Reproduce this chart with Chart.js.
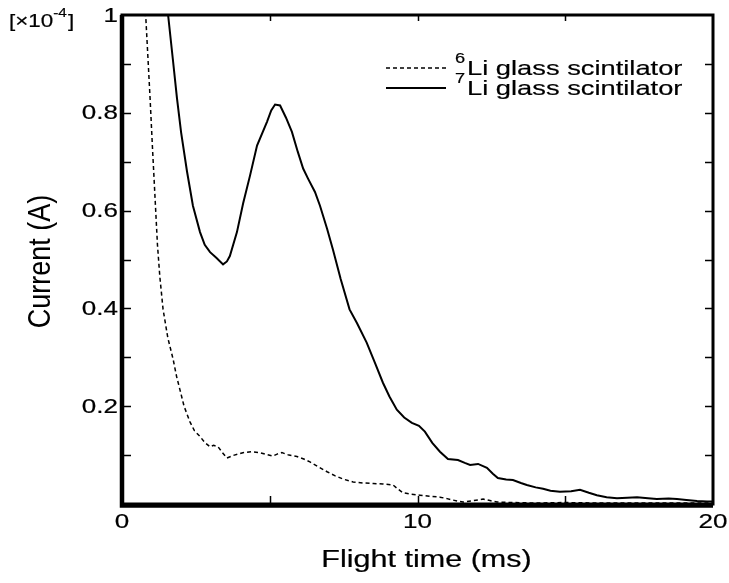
<!DOCTYPE html>
<html lang="en">
<head>
    <meta charset="UTF-8">
    <title>Flight time vs current</title>
    <script src="https://cdn.jsdelivr.net/npm/chart.js"></script>
    <style>
        html, body { margin: 0; padding: 0; background: white; }
        #wrap { width: 729px; height: 583px; }
    </style>
</head>
<body>
    <div id="wrap"><canvas id="tofChart" width="729" height="583"></canvas></div>

    <script>
        // Current in units of 1e-4 A against flight time in ms
        const li6Time = [0.75, 0.81, 0.88, 0.95, 1.03, 1.12, 1.2, 1.28, 1.39, 1.55, 1.73, 1.85, 1.96, 2.1, 2.3, 2.45, 2.64, 2.8, 2.98, 3.1, 3.25, 3.4, 3.55, 3.8, 4.09, 4.4, 4.67, 4.9, 5.11, 5.25, 5.41, 5.65, 5.92, 6.15, 6.36, 6.65, 6.94, 7.2, 7.48, 7.82, 8.16, 8.5, 8.83, 9.17, 9.35, 9.51, 9.8, 10.08, 10.4, 10.76, 11.0, 11.2, 11.54, 11.9, 12.22, 12.45, 12.69, 13.2, 14, 15, 16, 17, 18, 19, 20];
        const li6Current = [1.02, 0.99, 0.91, 0.83, 0.73, 0.624, 0.53, 0.465, 0.398, 0.34, 0.296, 0.26, 0.234, 0.2, 0.168, 0.15, 0.138, 0.126, 0.117, 0.12, 0.117, 0.105, 0.094, 0.1, 0.105, 0.107, 0.105, 0.101, 0.098, 0.102, 0.105, 0.1, 0.097, 0.092, 0.086, 0.076, 0.066, 0.058, 0.051, 0.045, 0.043, 0.042, 0.041, 0.039, 0.03, 0.023, 0.02, 0.018, 0.016, 0.014, 0.011, 0.008, 0.004, 0.007, 0.010, 0.007, 0.004, 0.003, 0.002, 0.003, 0.002, 0.002, 0.002, 0.002, 0.002];

        const li7Time = [1.52, 1.56, 1.72, 1.86, 2.0, 2.2, 2.4, 2.64, 2.8, 2.98, 3.2, 3.42, 3.55, 3.65, 3.89, 4.1, 4.33, 4.57, 4.91, 5.05, 5.18, 5.35, 5.55, 5.75, 5.95, 6.13, 6.3, 6.53, 6.7, 6.94, 7.14, 7.4, 7.7, 7.95, 8.28, 8.55, 8.83, 9.05, 9.3, 9.55, 9.81, 10.05, 10.25, 10.5, 10.76, 11.03, 11.37, 11.6, 11.78, 12.05, 12.35, 12.55, 12.72, 13.0, 13.23, 13.5, 13.7, 14.0, 14.25, 14.5, 14.82, 15.2, 15.5, 15.8, 16.07, 16.4, 16.75, 17.1, 17.43, 17.8, 18.1, 18.5, 18.78, 19.1, 19.46, 19.8, 20.0];
        const li7Current = [1.02, 1.0, 0.91, 0.83, 0.76, 0.68, 0.61, 0.556, 0.53, 0.515, 0.503, 0.49, 0.496, 0.507, 0.556, 0.615, 0.671, 0.733, 0.782, 0.805, 0.817, 0.815, 0.79, 0.761, 0.72, 0.686, 0.665, 0.638, 0.61, 0.563, 0.52, 0.46, 0.398, 0.37, 0.33, 0.29, 0.248, 0.22, 0.193, 0.177, 0.166, 0.16, 0.148, 0.125, 0.107, 0.092, 0.09, 0.084, 0.08, 0.082, 0.074, 0.062, 0.053, 0.05, 0.049, 0.043, 0.039, 0.034, 0.031, 0.027, 0.025, 0.026, 0.029, 0.023, 0.018, 0.014, 0.012, 0.013, 0.014, 0.012, 0.010, 0.011, 0.010, 0.008, 0.006, 0.005, 0.005];

        const legendMass = ['6', '7'];
        const legendText = ['Li glass scintilator', 'Li glass scintilator'];

        const xLabelValues = [0, 10, 20];
        const yLabelValues = [0.2, 0.4, 0.6, 0.8, 1];

        const xTitle = 'Flight time (ms)';
        const yTitle = 'Current (A)';

        const FONT = '"Liberation Sans", Arial, Helvetica, sans-serif';
        const WIDE = 1.3;   // the lettering is set wide

        function toPoints(xs, ys) {
            return xs.map((x, i) => ({ x: x, y: ys[i] }));
        }

        // draws horizontally stretched text, returns advance width
        function wideText(ctx, text, x, y, size, align, baseline, sx) {
            ctx.save();
            ctx.font = size + 'px ' + FONT;
            ctx.textAlign = align;
            ctx.textBaseline = baseline;
            ctx.translate(x, y);
            ctx.scale(sx, 1);
            ctx.lineWidth = 0.2;
            ctx.fillText(text, 0, 0);
            ctx.strokeText(text, 0, 0);
            const w = ctx.measureText(text).width * sx;
            ctx.restore();
            return w;
        }

        // Frame, inward ticks, labels, legend and the exponent note
        const framePlugin = {
            id: 'frame',
            afterDatasetsDraw(chart) {
                const ctx = chart.ctx;
                const a = chart.chartArea;
                const xs = chart.scales.x;
                const ys = chart.scales.y;
                ctx.save();
                ctx.strokeStyle = '#000';
                ctx.fillStyle = '#000';

                // ticks
                ctx.lineWidth = 1.5;
                ctx.beginPath();
                ys.ticks.forEach(t => {
                    if (t.value <= 0 || t.value >= 1) return;
                    const py = Math.round(ys.getPixelForValue(t.value)) + 0.5;
                    ctx.moveTo(a.left, py); ctx.lineTo(a.left + 9, py);
                    ctx.moveTo(a.right, py); ctx.lineTo(a.right - 8, py);
                });
                xs.ticks.forEach(t => {
                    if (t.value <= 0 || t.value >= 20) return;
                    const px = Math.round(xs.getPixelForValue(t.value)) + 0.5;
                    ctx.moveTo(px, a.bottom); ctx.lineTo(px, a.bottom - 8);
                    ctx.moveTo(px, a.top); ctx.lineTo(px, a.top + 6);
                });
                ctx.stroke();

                // box
                ctx.lineWidth = 3;
                ctx.strokeRect(a.left, a.top, a.right - a.left, a.bottom - a.top);
                ctx.lineWidth = 4.5;
                ctx.beginPath();
                ctx.moveTo(a.left, a.top); ctx.lineTo(a.left, a.bottom + 1.5);
                ctx.lineTo(a.right, a.bottom + 1.5);
                ctx.stroke();

                // tick labels
                ys.ticks.forEach(t => {
                    const v = Math.round(t.value * 10) / 10;
                    if (!yLabelValues.includes(v)) return;
                    wideText(ctx, String(v), a.left - 4, ys.getPixelForValue(v) + 1, 20, 'right', 'middle', WIDE);
                });
                xs.ticks.forEach(t => {
                    if (!xLabelValues.includes(t.value)) return;
                    wideText(ctx, String(t.value), xs.getPixelForValue(t.value), 528, 20, 'center', 'alphabetic', WIDE);
                });

                // axis titles
                wideText(ctx, xTitle, (a.left + a.right) / 2 + 9, 567, 23.5, 'center', 'alphabetic', WIDE);
                ctx.save();
                ctx.translate(41, (a.top + a.bottom) / 2 + 2);
                ctx.rotate(-Math.PI / 2);
                ctx.scale(1, 1.15);
                ctx.font = '27px ' + FONT;
                ctx.textAlign = 'center';
                ctx.textBaseline = 'middle';
                ctx.fillText(yTitle, 0, 0);
                ctx.restore();

                // legend
                const rows = [68, 88];
                chart.data.datasets.forEach((ds, i) => {
                    const y = rows[i];
                    ctx.lineWidth = ds.borderWidth;
                    ctx.setLineDash(ds.borderDash || []);
                    ctx.beginPath();
                    ctx.moveTo(386, y); ctx.lineTo(446, y);
                    ctx.stroke();
                    ctx.setLineDash([]);
                    wideText(ctx, legendMass[i], 455, y - 5, 14, 'left', 'alphabetic', WIDE);
                    wideText(ctx, legendText[i], 467, y + 7, 21, 'left', 'alphabetic', WIDE);
                });

                // exponent note
                let x = 9;
                x += wideText(ctx, '[\u00d710', x, 27, 19, 'left', 'alphabetic', 1.18);
                x += wideText(ctx, '-4', x, 17, 13, 'left', 'alphabetic', 1.18);
                wideText(ctx, ']', x + 1, 27, 19, 'left', 'alphabetic', 1.18);
                ctx.restore();
            }
        };

        new Chart(document.getElementById('tofChart'), {
            type: 'scatter',
            data: {
                datasets: [{
                    label: legendMass[0] + legendText[0],
                    data: toPoints(li6Time, li6Current),
                    showLine: true,
                    borderColor: '#000',
                    borderWidth: 1.5,
                    borderDash: [4, 3],
                    pointRadius: 0,
                    tension: 0,
                    clip: 0
                }, {
                    label: legendMass[1] + legendText[1],
                    data: toPoints(li7Time, li7Current),
                    showLine: true,
                    borderColor: '#000',
                    borderWidth: 2,
                    pointRadius: 0,
                    tension: 0,
                    clip: 0
                }]
            },
            options: {
                responsive: false,
                animation: false,
                layout: { padding: { top: 15, right: 16, left: 0, bottom: 0 } },
                plugins: {
                    legend: { display: false },
                    tooltip: { enabled: false }
                },
                scales: {
                    x: {
                        type: 'linear',
                        min: 0,
                        max: 20,
                        afterFit(scale) { scale.height = 79; },
                        border: { display: false },
                        grid: { display: false, drawTicks: false },
                        ticks: { stepSize: 5, display: false }
                    },
                    y: {
                        type: 'linear',
                        min: 0,
                        max: 1,
                        afterFit(scale) { scale.width = 122; },
                        border: { display: false },
                        grid: { display: false, drawTicks: false },
                        ticks: { stepSize: 0.1, display: false }
                    }
                }
            },
            plugins: [framePlugin]
        });
    </script>
</body>
</html>
